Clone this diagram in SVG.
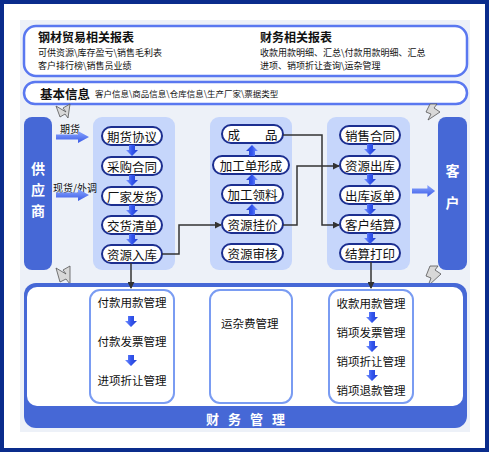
<svg xmlns="http://www.w3.org/2000/svg" width="490" height="453" viewBox="0 0 490 453">
<style>
text{font-family:"Noto Sans CJK SC","Noto Sans",sans-serif;}
.pill{fill:#fff;stroke:#1c2f90;stroke-width:2;}
.nt{font-size:12.5px;fill:#111;text-anchor:middle;dominant-baseline:central;}
.ft{font-size:11.5px;fill:#111;text-anchor:middle;dominant-baseline:central;}
.panel{fill:#c6d6fb;}
.bluebox{fill:#4668d6;}
.vt{font-size:14px;font-weight:bold;fill:#fff;text-anchor:middle;dominant-baseline:central;}
.conn{fill:none;stroke:#333;stroke-width:1.5;}
.sub{fill:#fff;stroke:#7a9cf2;stroke-width:2;}
.lbl{font-size:10px;fill:#111;dominant-baseline:central;}
.small{font-size:9px;fill:#111;dominant-baseline:central;}
.ttl{font-size:12px;font-weight:bold;fill:#111;dominant-baseline:central;}
.deco{fill:#d8d8d8;stroke:#555;stroke-width:0.8;}
</style>
<defs>
<linearGradient id="ag" x1="0" y1="0" x2="1" y2="0">
<stop offset="0" stop-color="#7a96ff"/><stop offset="0.5" stop-color="#3355ee"/><stop offset="1" stop-color="#2440d0"/>
</linearGradient>
<linearGradient id="hg" x1="0" y1="0" x2="0" y2="1">
<stop offset="0" stop-color="#8aa6ff"/><stop offset="1" stop-color="#3a5ae6"/>
</linearGradient>
<path id="dn" d="M-3,0 H3 V5 H6 L0,11 L-6,5 H-3 Z" fill="url(#ag)"/>
<path id="harr" d="M0,-2.5 H22 V-6 L33,0 L22,6 V2.5 H0 Z" fill="url(#hg)"/>
<marker id="ah" viewBox="0 0 8 8" refX="7" refY="4" markerWidth="7" markerHeight="7" markerUnits="userSpaceOnUse" orient="auto">
<path d="M0,0 L8,4 L0,8 Z" fill="#333"/>
</marker>
</defs>

<rect x="0" y="0" width="490" height="453" fill="#fff"/>
<rect x="20" y="20" width="450" height="412" fill="#edf1f8"/>
<rect x="2" y="2" width="485" height="448" fill="none" stroke="#0a2c8c" stroke-width="4"/>

<g id="reports">
<rect x="24" y="26" width="443" height="50" rx="12" fill="#fff" stroke="#5a78f0" stroke-width="2.5"/>
<text class="ttl" x="38" y="36">钢材贸易相关报表</text>
<text class="small" x="38" y="52">可供资源\库存盈亏\销售毛利表</text>
<text class="small" x="38" y="65">客户排行榜\销售员业绩</text>
<text class="ttl" x="260" y="36">财务相关报表</text>
<text class="small" x="260" y="52">收款用款明细、汇总\付款用款明细、汇总</text>
<text class="small" x="260" y="65">进项、销项折让查询\运杂管理</text>
</g>

<g id="basic-info">
<rect x="24" y="82" width="443" height="22" rx="11" fill="#fff" stroke="#5a78f0" stroke-width="2.5"/>
<text class="ttl" x="40" y="93" style="font-size:12.5px">基本信息</text>
<text x="95" y="93" style="font-size:8.5px;fill:#111;dominant-baseline:central">客户信息\商品信息\仓库信息\生产厂家\票据类型</text>
</g>

<g id="decorations">
<path class="deco" d="M56,106 L66,112 L63,108 L70,104 L68,118 L65,114 L60,117 Z"/>
<path class="deco" d="M56,268 L66,274 L63,270 L70,266 L70,284 L66,279 L60,282 Z"/>
<path class="deco" d="M430,104 L437,104 L434,108 L440,112 L428,120 L431,114 L426,112 Z"/>
<path class="deco" d="M430,266 L438,266 L435,270 L441,274 L428,286 L431,278 L426,276 Z"/>
</g>

<g id="supplier">
<rect class="bluebox" x="24" y="117" width="28" height="153" rx="8"/>
<text class="vt" x="38" y="168">供</text>
<text class="vt" x="38" y="189">应</text>
<text class="vt" x="38" y="210">商</text>
</g>

<g id="customer">
<rect class="bluebox" x="438" y="117" width="29" height="153" rx="8"/>
<text class="vt" x="452.5" y="170">客</text>
<text class="vt" x="452.5" y="202">户</text>
</g>

<g id="panel-purchase">
<rect class="panel" x="93" y="117" width="82" height="153" rx="9"/>
<g id="n-qhxy"><rect class="pill" x="102" y="127" width="60" height="18" rx="9"/><text class="nt" x="132" y="136">期货协议</text></g>
<g id="n-cght"><rect class="pill" x="102" y="157" width="60" height="18" rx="9"/><text class="nt" x="132" y="166">采购合同</text></g>
<g id="n-cjfh"><rect class="pill" x="102" y="187" width="60" height="18" rx="9"/><text class="nt" x="132" y="196">厂家发货</text></g>
<g id="n-jhqd"><rect class="pill" x="102" y="216" width="60" height="18" rx="9"/><text class="nt" x="132" y="225">交货清单</text></g>
<g id="n-zyrk"><rect class="pill" x="102" y="245" width="60" height="18" rx="9"/><text class="nt" x="132" y="254">资源入库</text></g>
<use href="#dn" x="132" y="145"/>
<use href="#dn" x="132" y="175"/>
<use href="#dn" x="132" y="205"/>
<use href="#dn" x="132" y="234"/>
</g>

<g id="panel-process">
<rect class="panel" x="210" y="117" width="82" height="153" rx="9"/>
<g id="n-cp"><rect class="pill" x="222" y="125" width="61" height="18" rx="9"/><text class="nt" x="252.5" y="134">成　　品</text></g>
<g id="n-jgdxc"><rect class="pill" x="213" y="156" width="76" height="18" rx="9"/><text class="nt" x="251" y="165">加工单形成</text></g>
<g id="n-jgll"><rect class="pill" x="222" y="185" width="61" height="18" rx="9"/><text class="nt" x="252.5" y="194">加工领料</text></g>
<g id="n-zygj"><rect class="pill" x="222" y="215" width="61" height="18" rx="9"/><text class="nt" x="252.5" y="224">资源挂价</text></g>
<g id="n-zysh"><rect class="pill" x="222" y="244" width="61" height="18" rx="9"/><text class="nt" x="252.5" y="253">资源审核</text></g>
<use href="#dn" transform="translate(252,156) rotate(180)"/>
<use href="#dn" transform="translate(252,185) rotate(180)"/>
<use href="#dn" transform="translate(252,215) rotate(180)"/>
</g>

<g id="panel-sales">
<rect class="panel" x="327" y="117" width="83" height="153" rx="9"/>
<g id="n-xsht"><rect class="pill" x="340" y="126" width="60" height="18" rx="9"/><text class="nt" x="370" y="135">销售合同</text></g>
<g id="n-zyck"><rect class="pill" x="340" y="156" width="60" height="18" rx="9"/><text class="nt" x="370" y="165">资源出库</text></g>
<g id="n-ckfd"><rect class="pill" x="340" y="186" width="60" height="18" rx="9"/><text class="nt" x="370" y="195">出库返单</text></g>
<g id="n-khjs"><rect class="pill" x="340" y="215" width="60" height="18" rx="9"/><text class="nt" x="370" y="224">客户结算</text></g>
<g id="n-jsdy"><rect class="pill" x="340" y="244" width="60" height="18" rx="9"/><text class="nt" x="370" y="253">结算打印</text></g>
<use href="#dn" x="370" y="144"/>
<use href="#dn" x="370" y="174"/>
<use href="#dn" x="370" y="204"/>
<use href="#dn" x="370" y="233"/>
</g>

<g id="finance">
<rect class="bluebox" x="24" y="283" width="443" height="145" rx="12"/>
<rect x="27" y="287" width="436" height="119" rx="10" fill="#fff"/>
<text x="250" y="418" style="font-size:13px;font-weight:bold;fill:#fff;text-anchor:middle;dominant-baseline:central;letter-spacing:9px">财务管理</text>
<g id="f-pay">
<rect class="sub" x="90" y="290" width="84" height="113" rx="10"/>
<text class="ft" x="132" y="302">付款用款管理</text>
<text class="ft" x="132" y="341">付款发票管理</text>
<text class="ft" x="132" y="380">进项折让管理</text>
<use href="#dn" x="131" y="316"/>
<use href="#dn" x="131" y="355"/>
</g>
<g id="f-freight">
<rect class="sub" x="210" y="290" width="82" height="113" rx="10"/>
<text class="ft" x="221" y="323" style="text-anchor:start">运杂费管理</text>
</g>
<g id="f-recv">
<rect class="sub" x="329" y="290" width="84" height="113" rx="10"/>
<text class="ft" x="371" y="303">收款用款管理</text>
<text class="ft" x="371" y="332">销项发票管理</text>
<text class="ft" x="371" y="361">销项折让管理</text>
<text class="ft" x="371" y="390">销项退款管理</text>
<use href="#dn" x="372" y="312"/>
<use href="#dn" x="372" y="341"/>
<use href="#dn" x="372" y="370"/>
</g>
</g>

<g id="connectors">
<text class="lbl" x="60" y="128">期货</text>
<use href="#harr" x="56" y="137"/>
<text class="lbl" x="53" y="187">现货/外调</text>
<use href="#harr" x="56" y="195"/>
<use href="#harr" transform="translate(412,191) scale(0.7,1)"/>
<polyline class="conn" points="162,254 179,254 179,225 221,225" marker-end="url(#ah)"/>
<polyline class="conn" points="283,225 297,225 297,166 339,166" marker-end="url(#ah)"/>
<polyline class="conn" points="283,135 322,135 322,225 339,225" marker-end="url(#ah)"/>
<line class="conn" x1="131" y1="263" x2="131" y2="288" marker-end="url(#ah)"/>
<line class="conn" x1="371" y1="262" x2="371" y2="288" marker-end="url(#ah)"/>
</g>
</svg>
